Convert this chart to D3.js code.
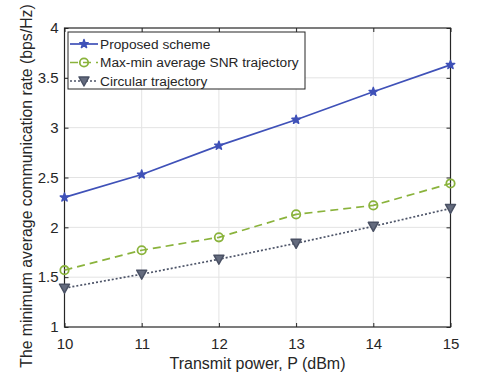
<!DOCTYPE html>
<html>
<head>
<meta charset="utf-8">
<script src="https://cdn.jsdelivr.net/npm/d3@7"></script>
<style>
  body { margin: 0; background: #fff; }
  text { font-family: "Liberation Sans", Arial, sans-serif; fill: #262626; }
</style>
</head>
<body>
<svg id="chart" width="498" height="374"></svg>
<script>
// data
var powers = [10, 11, 12, 13, 14, 15];
var proposed = [2.30, 2.53, 2.82, 3.08, 3.36, 3.63];
var maxMinSnr = [1.57, 1.77, 1.90, 2.13, 2.22, 2.44];
var circular = [1.39, 1.53, 1.68, 1.84, 2.01, 2.19];
var yTicks = [1, 1.5, 2, 2.5, 3, 3.5, 4];
var seriesNames = ["Proposed scheme", "Max-min average SNR trajectory", "Circular trajectory"];

var svg = d3.select("#chart");
var margin = {left: 64.5, right: 47.5, top: 28, bottom: 47};
var width = 498 - margin.left - margin.right,
    height = 374 - margin.top - margin.bottom;

var g = svg.append("g").attr("transform", "translate(" + margin.left + "," + margin.top + ")");

var xScale = d3.scaleLinear().domain([10, 15]).range([0, width]);
var yScale = d3.scaleLinear().domain([1, 4]).range([height, 0]);

// grid
g.append("g").selectAll("line.gx")
  .data(powers.slice(1, -1))
  .enter().append("line")
  .attr("x1", d => xScale(d)).attr("x2", d => xScale(d))
  .attr("y1", 0).attr("y2", height)
  .style("stroke", "#e3e3e3").style("stroke-width", 1);
g.append("g").selectAll("line.gy")
  .data(yTicks.slice(1, -1))
  .enter().append("line")
  .attr("x1", 0).attr("x2", width)
  .attr("y1", d => yScale(d)).attr("y2", d => yScale(d))
  .style("stroke", "#e3e3e3").style("stroke-width", 1);

// axes (ticks inward on all four sides)
function styleAxis(sel) {
  sel.select(".domain").remove();
  sel.selectAll("line").style("stroke", "#262626");
  sel.selectAll("text").style("font-size", "15px").style("fill", "#262626")
    .style("font-family", "'Liberation Sans', Arial, sans-serif");
}
g.append("g").attr("transform", "translate(0," + height + ")")
  .call(d3.axisBottom(xScale).tickValues(powers).tickSize(-4).tickPadding(11).tickFormat(d3.format("d")))
  .call(styleAxis);
g.append("g")
  .call(d3.axisTop(xScale).tickValues(powers).tickSize(-4).tickFormat(""))
  .call(styleAxis);
g.append("g")
  .call(d3.axisLeft(yScale).tickValues(yTicks).tickSize(-4).tickPadding(6).tickFormat(d3.format("")))
  .call(styleAxis);
g.append("g").attr("transform", "translate(" + width + ",0)")
  .call(d3.axisRight(yScale).tickValues(yTicks).tickSize(-4).tickFormat(""))
  .call(styleAxis);

g.append("rect").attr("width", width).attr("height", height)
  .style("fill", "none").style("stroke", "#262626").style("stroke-width", 1.2);

// axis labels
svg.append("text")
  .attr("x", margin.left + width / 2).attr("y", 369)
  .style("text-anchor", "middle").style("font-size", "16px")
  .text("Transmit power, P (dBm)");
svg.append("text")
  .attr("transform", "translate(32,186) rotate(-90)")
  .style("text-anchor", "middle").style("font-size", "15.8px")
  .text("The minimum average communication rate (bps/Hz)");

// series
var series = [
  {name: seriesNames[0], values: proposed, color: "#3f51b8", dash: null, marker: "star"},
  {name: seriesNames[1], values: maxMinSnr, color: "#8ab33c", dash: "8,5", marker: "circle"},
  {name: seriesNames[2], values: circular, color: "#4d5468", dash: "2,2", marker: "triangle"}
];

var line = d3.line().x((d, i) => xScale(powers[i])).y(d => yScale(d));

function drawMarker(sel, s) {
  if (s.marker === "star") {
    sel.append("path").attr("d", d3.symbol().type(d3.symbolStar).size(22))
      .style("fill", s.color).style("stroke", s.color).style("stroke-width", 1.5)
      .style("stroke-linejoin", "round");
  } else if (s.marker === "circle") {
    sel.append("circle").attr("r", 4.2)
      .style("fill", "none").style("stroke", s.color).style("stroke-width", 1.8);
  } else {
    sel.append("path").attr("d", "M-5,-4L5,-4L0,5Z")
      .style("fill", "#646b7e").style("stroke", "#4a5164").style("stroke-width", 1.5)
      .style("stroke-linejoin", "round");
  }
}

series.forEach(function(s) {
  g.append("path").datum(s.values)
    .attr("d", line)
    .style("fill", "none").style("stroke", s.color).style("stroke-width", 1.7)
    .style("stroke-dasharray", s.dash);
  g.selectAll(null).data(s.values).enter().append("g")
    .attr("transform", (d, i) => "translate(" + xScale(powers[i]) + "," + yScale(d) + ")")
    .each(function() { drawMarker(d3.select(this), s); });
});

// legend
var legend = svg.append("g").attr("transform", "translate(68,32)");
legend.append("rect").attr("width", 237).attr("height", 57)
  .style("fill", "#fff").style("stroke", "#262626").style("stroke-width", 1);
series.forEach(function(s, i) {
  var row = legend.append("g").attr("transform", "translate(0," + (12 + i * 18.5) + ")");
  row.append("line").attr("x1", 2).attr("x2", 30).attr("y1", 0).attr("y2", 0)
    .style("stroke", s.color).style("stroke-width", 1.7)
    .style("stroke-dasharray", s.dash);
  var m = row.append("g").attr("transform", "translate(16,0)");
  drawMarker(m, s);
  row.append("text").attr("x", 32).attr("y", 0).attr("dy", "0.35em")
    .style("font-size", "13.7px").text(s.name);
});
</script>
</body>
</html>
